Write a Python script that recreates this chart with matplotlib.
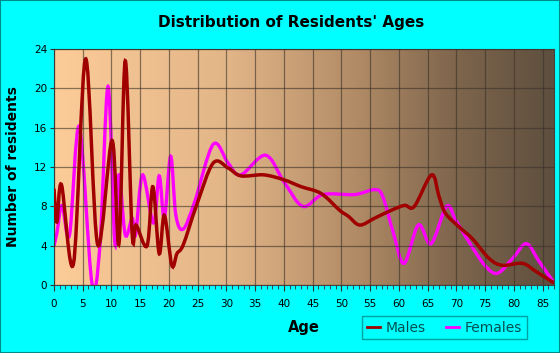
import numpy as np
import matplotlib.pyplot as plt
from matplotlib.path import Path
from matplotlib.patches import PathPatch, Rectangle
from matplotlib.colors import LinearSegmentedColormap
from matplotlib.lines import Line2D

# values
male_ages = [0, 0.5, 1.3, 3.4, 5.5, 7.6, 10.1, 11.3, 12.4, 13.6, 14.3, 16.2, 17.2,
             18.3, 19.2, 20.5, 21.4, 22.5, 24.8, 27.7, 30.3, 32.5, 36.5, 40, 43,
             46.5, 49.7, 51.2, 53.2, 55.8, 58.7, 61, 62.7, 65.7, 67.0, 68.1, 70.5,
             72.8, 75.7, 78, 81.5, 83.8, 87]
male_vals = [9.8, 6.4, 10.2, 2.2, 23.0, 4.1, 14.7, 4.2, 22.8, 5.2, 6.1, 4.0, 10.0,
             3.2, 7.1, 2.0, 3.2, 4.1, 8.1, 12.4, 11.9, 11.1, 11.2, 10.7, 10.0,
             9.3, 7.6, 7.0, 6.1, 6.8, 7.6, 8.1, 8.0, 11.2, 9.0, 7.3, 5.9,
             4.7, 2.7, 2.0, 2.2, 1.4, 0.2]

female_ages = [0, 0.5, 1.4, 2.7, 4.4, 6.6, 8.0, 9.4, 10.6, 11.3, 12.4, 13.6, 14.2,
               15.4, 17.3, 18.3, 19.2, 20.3, 21.2, 22.5, 24.5, 27.7, 30.3, 32.5,
               36.8, 40, 43.3, 46.8, 52.3, 55.8, 57.2, 59, 60.9, 63.4, 65.6, 68.3,
               69.9, 72.5, 75.1, 77.2, 79.8, 82.2, 84.4, 86.8]
female_vals = [4.0, 5.3, 8.1, 5.1, 16.1, 0.2, 4.1, 20.2, 4.2, 11.2, 5.1, 6.8, 5.1,
               11.2, 6.3, 11.1, 6.8, 13.1, 7.1, 5.7, 8.5, 14.3, 12.4, 11.2,
               13.2, 10.5, 8.0, 9.2, 9.2, 9.7, 9.0, 5.4, 2.2, 6.1, 4.2, 8.0,
               6.6, 4.1, 1.9, 1.2, 2.7, 4.2, 2.4, 0.4]

x_ticks = list(range(0, 90, 5))
y_ticks = [0, 4, 8, 12, 16, 20, 24]


def smooth_path(xs, ys):
    # catmull-rom through the points, drawn as cubic bezier segments
    p = np.column_stack([xs, ys]).astype(float)
    p = np.vstack([p[0], p, p[-1]])
    verts = [p[1]]
    codes = [Path.MOVETO]
    for i in range(1, len(p) - 2):
        c1 = p[i] + (p[i + 1] - p[i - 1]) / 6
        c2 = p[i + 1] - (p[i + 2] - p[i]) / 6
        verts += [c1, c2, p[i + 1]]
        codes += [Path.CURVE4] * 3
    return Path(verts, codes)


bg = '#00FFFF'
fig = plt.figure(figsize=(5.6, 3.53), dpi=100, facecolor=bg)
ax = fig.add_axes([54 / 560, 1 - 285 / 353, 500 / 560, 236 / 353])

cmap = LinearSegmentedColormap.from_list('bg', [
    (0.0, (252/255, 204/255, 152/255)),
    (0.35, (226/255, 181/255, 136/255)),
    (0.6, (178/255, 140/255, 102/255)),
    (0.8, (127/255, 102/255, 77/255)),
    (1.0, (94/255, 79/255, 62/255))])
ax.imshow(np.linspace(0, 1, 256).reshape(1, -1), cmap=cmap, aspect='auto',
          extent=[0, 1, 0, 1], transform=ax.transAxes, zorder=0)

ax.set_xlim(0, 87)
ax.set_ylim(0, 24)
ax.set_xticks(x_ticks)
ax.set_xticks(range(0, 88), minor=True)
ax.set_yticks(y_ticks)
ax.grid(True, color='#3a3028', alpha=0.6, linewidth=0.9, zorder=1)
ax.set_axisbelow(False)

ax.add_patch(PathPatch(smooth_path(male_ages, male_vals), fill=False,
                       edgecolor='#A00000', linewidth=2.5, zorder=3))
ax.add_patch(PathPatch(smooth_path(female_ages, female_vals), fill=False,
                       edgecolor='#FF00FF', linewidth=2.4, zorder=2))

for s in ax.spines.values():
    s.set_color('#444444')
    s.set_linewidth(0.8)
ax.tick_params(axis='both', which='both', color='#333333', labelsize=7.5,
               direction='out')
ax.tick_params(axis='x', which='major', length=4, pad=6)
ax.tick_params(axis='x', which='minor', length=3)
ax.tick_params(axis='y', length=3, pad=2)

ax.set_xlabel('Age', fontsize=10.5, fontweight='bold', labelpad=8)
ax.set_ylabel('Number of residents', fontsize=10, fontweight='bold', labelpad=10)
fig.text(0.52, 0.937, "Distribution of Residents' Ages", ha='center', va='center',
         fontsize=11, fontweight='bold')

handles = [Line2D([], [], color='#A00000', linewidth=2),
           Line2D([], [], color='#FF00FF', linewidth=2)]
leg = fig.legend(handles, ['Males', 'Females'], loc='center',
                 bbox_to_anchor=(444.5 / 560, 1 - 327.5 / 353), ncol=2,
                 fontsize=10, frameon=True, fancybox=False, handlelength=1.0,
                 handletextpad=0.4, columnspacing=1.4, borderpad=0.3,
                 labelcolor='#005050')
leg.get_frame().set_facecolor(bg)
leg.get_frame().set_edgecolor('#008B8B')
leg.get_frame().set_linewidth(1.0)

fig.patches.append(Rectangle((0, 0), 1, 1, transform=fig.transFigure, fill=False,
                             edgecolor='#008B8B', linewidth=1.5))

fig.savefig('out.png', dpi=100, facecolor=bg)
